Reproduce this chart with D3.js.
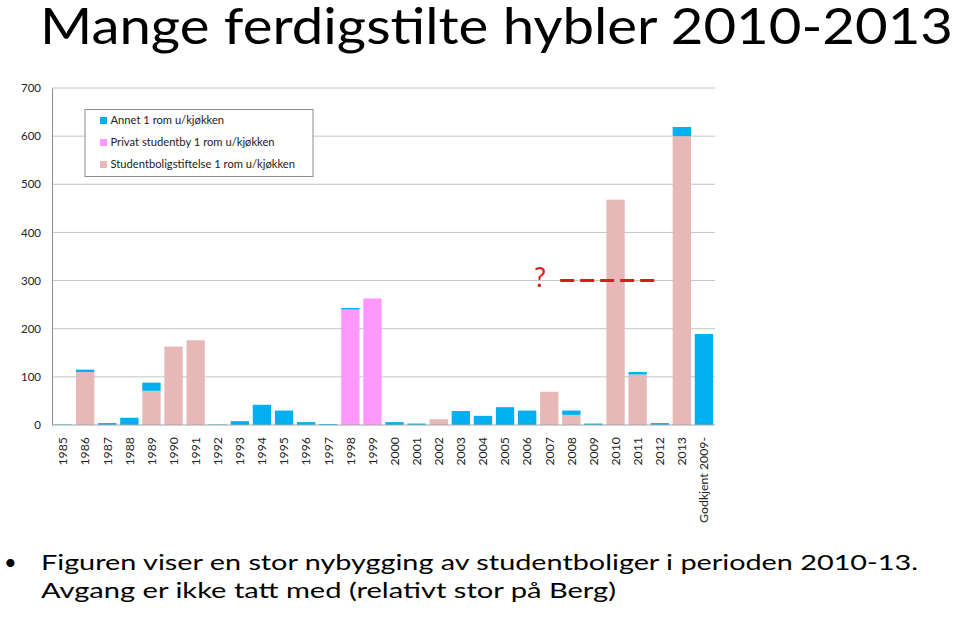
<!DOCTYPE html>
<html>
<head>
<meta charset="utf-8">
<script src="https://cdn.jsdelivr.net/npm/d3@7"></script>
<style>
  body { margin: 0; background: #fff; }
  svg { display: block; font-family: Lato, 'Open Sans', sans-serif; }
</style>
</head>
<body>
<div id="chart"></div>
<script>
// categories and series
const years = ['1985','1986','1987','1988','1989','1990','1991','1992','1993','1994',
  '1995','1996','1997','1998','1999','2000','2001','2002','2003','2004',
  '2005','2006','2007','2008','2009','2010','2011','2012','2013','Godkjent 2009-']
const studentbolig = [0,110,0,0,71,163,176,0,0,0,0,0,0,0,0,0,0,12,0,0,0,0,69,21,0,468,105,0,600,0]
const privat = [0,0,0,0,0,0,0,0,0,0,0,0,0,240,263,0,0,0,0,0,0,0,0,0,0,0,0,0,0,0]
const annet = [1,5,4,15,17,0,0,1,8,42,30,6,2,3,0,6,3,0,29,19,37,30,0,9,3,0,5,4,19,189]
const yTicks = [0,100,200,300,400,500,600,700]

const seriesKeys = ['studentbolig','privat','annet']
const seriesNames = {
  annet: 'Annet 1 rom u/kjøkken',
  privat: 'Privat studentby 1 rom u/kjøkken',
  studentbolig: 'Studentboligstiftelse 1 rom u/kjøkken'
}
const colors = { annet: '#00b0f0', privat: '#ff99ff', studentbolig: '#e6b9b8' }

const rows = years.map((y, i) => ({ year: y, studentbolig: studentbolig[i], privat: privat[i], annet: annet[i] }))

const svg = d3.select('#chart').append('svg')
  .attr('width', 960)
  .attr('height', 617)

// slide title
svg.append('text')
  .attr('x', 40).attr('y', 44)
  .attr('font-size', 51)
  .attr('textLength', 913).attr('lengthAdjust', 'spacingAndGlyphs')
  .attr('fill', '#000')
  .text('Mange ferdigstilte hybler 2010-2013')

// scales
const x = d3.scaleBand()
  .domain(years)
  .range([52, 715])
  .paddingInner(0.17)
  .paddingOuter(0.085)

const y = d3.scaleLinear()
  .domain([0, 700])
  .range([425, 88])

// gridlines
svg.append('g')
  .selectAll('line')
  .data(yTicks.filter(d => d > 0))
  .join('line')
  .attr('x1', 52).attr('x2', 715)
  .attr('y1', d => y(d)).attr('y2', d => y(d))
  .attr('stroke', '#c4c4c4')
  .attr('stroke-width', 1)

// y axis
const yAxis = svg.append('g')
  .attr('transform', 'translate(52,0)')
  .call(d3.axisLeft(y).tickValues(yTicks).tickSize(0).tickPadding(11))
yAxis.select('.domain').attr('stroke', '#8c8c8c')
yAxis.selectAll('text').attr('font-size', 11.5).attr('fill', '#222').attr('font-family', 'Lato, sans-serif')

// stacked bars
const stacked = d3.stack().keys(seriesKeys)(rows)
svg.append('g')
  .selectAll('g')
  .data(stacked)
  .join('g')
  .attr('fill', d => colors[d.key])
  .selectAll('rect')
  .data(d => d)
  .join('rect')
  .attr('x', d => x(d.data.year))
  .attr('width', x.bandwidth())
  .attr('y', d => y(d[1]))
  .attr('height', d => y(d[0]) - y(d[1]))

// baseline
svg.append('line')
  .attr('x1', 52).attr('x2', 715)
  .attr('y1', y(0)).attr('y2', y(0))
  .attr('stroke', '#a6a6a6')

// x axis labels
const xAxis = svg.append('g')
  .attr('transform', `translate(0,${y(0)})`)
  .call(d3.axisBottom(x).tickSize(0).tickPadding(0))
xAxis.select('.domain').remove()
xAxis.selectAll('text')
  .attr('font-size', 12.3)
  .attr('fill', '#222')
  .attr('font-family', 'Lato, sans-serif')
  .attr('transform', 'rotate(-90)')
  .attr('text-anchor', 'end')
  .attr('x', -12)
  .attr('y', 0)
  .attr('dy', '0.35em')

// legend
const legend = svg.append('g').attr('transform', 'translate(85,109.5)')
legend.append('rect')
  .attr('width', 228).attr('height', 67)
  .attr('fill', '#fff')
  .attr('stroke', '#8c8c8c')
const legendKeys = ['annet','privat','studentbolig']
const item = legend.selectAll('g.item')
  .data(legendKeys)
  .join('g')
  .attr('class', 'item')
  .attr('transform', (d, i) => `translate(15,${11 + i * 22})`)
item.append('rect')
  .attr('x', 0).attr('y', -3.5)
  .attr('width', 7).attr('height', 7)
  .attr('fill', d => colors[d])
item.append('text')
  .attr('x', 10.5).attr('y', 0)
  .attr('dy', '0.35em')
  .attr('font-size', 11.2)
  .attr('fill', '#222')
  .text(d => seriesNames[d])

// "?" annotation with dashed red line
const yQ = y(300)
svg.append('text')
  .attr('x', x('2007') - 6).attr('y', yQ + 6.5)
  .attr('font-size', 27)
  .attr('fill', '#e0191b')
  .text('?')
svg.append('line')
  .attr('x1', x('2008') - 2).attr('x2', x('2012') + 6)
  .attr('y1', yQ).attr('y2', yQ)
  .attr('stroke', '#e0191b')
  .attr('stroke-width', 3)
  .attr('stroke-dasharray', '14,6')

// bullet text
svg.append('text')
  .attr('x', 4).attr('y', 570)
  .attr('font-size', 22)
  .attr('fill', '#000')
  .text('•')
svg.append('text')
  .attr('x', 41).attr('y', 570)
  .attr('font-size', 22)
  .attr('textLength', 877).attr('lengthAdjust', 'spacingAndGlyphs')
  .attr('fill', '#000')
  .text('Figuren viser en stor nybygging av studentboliger i perioden 2010-13.')
svg.append('text')
  .attr('x', 41).attr('y', 598)
  .attr('font-size', 22)
  .attr('textLength', 575).attr('lengthAdjust', 'spacingAndGlyphs')
  .attr('fill', '#000')
  .text('Avgang er ikke tatt med (relativt stor på Berg)')
</script>
</body>
</html>
